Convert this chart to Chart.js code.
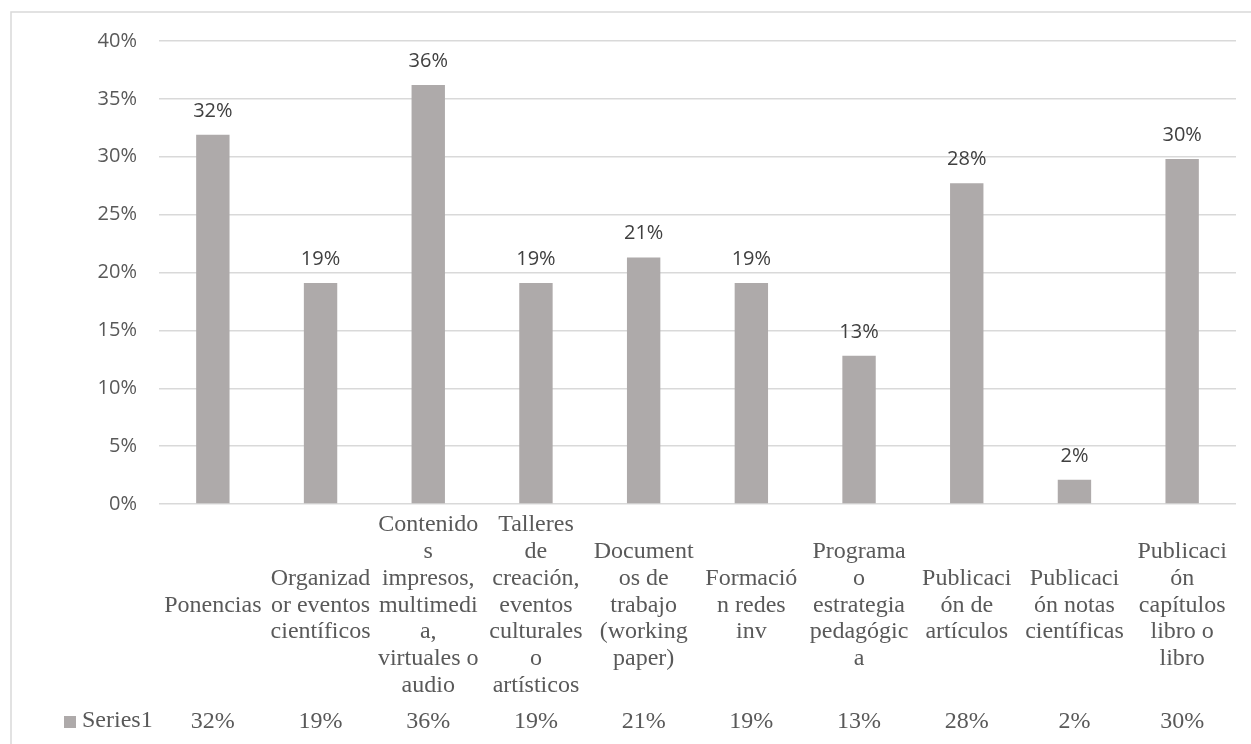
<!DOCTYPE html>
<html>
<head>
<meta charset="utf-8">
<script src="https://cdn.jsdelivr.net/npm/chart.js@4.4.1/dist/chart.umd.min.js"></script>
<style>
    body { margin: 0; background: #ffffff; }
    #productosChart { display: block; }
</style>
</head>
<body>
<canvas id="productosChart" width="1251" height="744"></canvas>
<script>
// Categories, already wrapped into lines the way the table shows them
let categories = [
    ["Ponencias"],
    ["Organizad", "or eventos", "científicos"],
    ["Contenido", "s", "impresos,", "multimedi", "a,", "virtuales o", "audio"],
    ["Talleres", "de", "creación,", "eventos", "culturales", "o", "artísticos"],
    ["Document", "os de", "trabajo", "(working", "paper)"],
    ["Formació", "n redes", "inv"],
    ["Programa", "o", "estrategia", "pedagógic", "a"],
    ["Publicaci", "ón de", "artículos"],
    ["Publicaci", "ón notas", "científicas"],
    ["Publicaci", "ón", "capítulos", "libro o", "libro"]
];

let seriesName = "Series1";
let seriesValues = [0.319, 0.191, 0.362, 0.191, 0.213, 0.191, 0.128, 0.277, 0.021, 0.298];

let yTicks = [0, 0.05, 0.10, 0.15, 0.20, 0.25, 0.30, 0.35, 0.40];

let barColor = "#aeaaaa",
    gridColor = "#d9d9d9",
    textGray = "#595959",
    labelDark = "#404040",
    sansFont = "'Open Sans', sans-serif",
    serifFont = "'Liberation Serif', 'Times New Roman', serif";

function pct(v) {
    return Math.round(v * 100) + "%";
}

// Value labels over the bars, the data table under the axis and the frame
let dataTablePlugin = {
    id: "dataTable",
    afterDatasetsDraw: function (chart) {
        var ctx = chart.ctx;
        var meta = chart.getDatasetMeta(0);
        var xScale = chart.scales.x;
        var values = chart.data.datasets[0].data;

        ctx.save();

        // value on top of each bar
        ctx.font = "20px " + sansFont;
        ctx.fillStyle = labelDark;
        ctx.textAlign = "center";
        ctx.textBaseline = "alphabetic";
        for (var i = 0; i < meta.data.length; i++) {
            var bar = meta.data[i];
            ctx.fillText(pct(values[i]), bar.x, bar.y - 18);
        }

        // category names, centred on one baseline
        ctx.font = "24px " + serifFont;
        ctx.fillStyle = textGray;
        var midLine = 611.5, lineGap = 26.8;
        for (var c = 0; c < chart.data.labels.length; c++) {
            var lines = chart.data.labels[c];
            var x = xScale.getPixelForValue(c);
            var first = midLine - (lines.length - 1) / 2 * lineGap;
            for (var k = 0; k < lines.length; k++) {
                ctx.fillText(lines[k], x, first + k * lineGap);
            }
        }

        // series row of the table
        for (var j = 0; j < values.length; j++) {
            ctx.fillText(pct(values[j]), xScale.getPixelForValue(j), 728);
        }
        ctx.textAlign = "left";
        ctx.fillText(chart.data.datasets[0].label, 82, 727);
        ctx.fillStyle = barColor;
        ctx.fillRect(64, 716, 12, 12);

        // outer frame (left and top edges fall inside the canvas)
        ctx.strokeStyle = gridColor;
        ctx.lineWidth = 1.5;
        ctx.beginPath();
        ctx.moveTo(11, 760);
        ctx.lineTo(11, 12);
        ctx.lineTo(1260, 12);
        ctx.stroke();

        ctx.restore();
    }
};

var ctx = document.getElementById("productosChart");
new Chart(ctx, {
    type: "bar",
    data: {
        labels: categories,
        datasets: [{
            label: seriesName,
            data: seriesValues,
            backgroundColor: barColor,
            borderWidth: 0,
            barPercentage: 0.31,
            categoryPercentage: 1
        }]
    },
    options: {
        responsive: false,
        animation: false,
        layout: {
            padding: { top: 41, right: 15, bottom: 240, left: 0 }
        },
        plugins: {
            legend: { display: false },
            tooltip: { enabled: false }
        },
        scales: {
            x: {
                display: false
            },
            y: {
                min: yTicks[0],
                max: yTicks[yTicks.length - 1],
                afterBuildTicks: function (scale) {
                    scale.ticks = yTicks.map(function (v) { return { value: v }; });
                },
                afterFit: function (scale) {
                    scale.width = 159;
                },
                ticks: {
                    padding: 22,
                    color: textGray,
                    font: { family: sansFont, size: 20 },
                    callback: function (value) { return pct(value); }
                },
                grid: {
                    color: gridColor,
                    lineWidth: 1.5,
                    drawTicks: false
                },
                border: { display: false }
            }
        }
    },
    plugins: [dataTablePlugin]
});
</script>
</body>
</html>
